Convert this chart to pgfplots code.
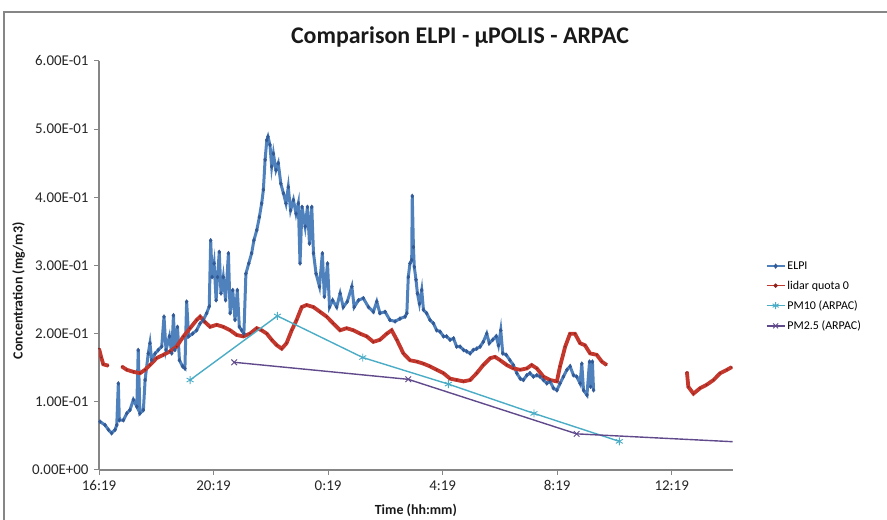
\documentclass[border=0pt]{standalone}
\usepackage{fontspec}
\setmainfont{Carlito}
\usepackage{pgfplots}
\usepackage{pgfplotstable}
\pgfplotsset{compat=1.18}
\definecolor{elpi}{RGB}{79,129,189}
\definecolor{elpimark}{RGB}{50,90,150}
\definecolor{lidar}{RGB}{195,55,45}
\definecolor{lidarmark}{RGB}{140,35,30}
\definecolor{pmten}{RGB}{75,172,198}
\definecolor{pmtwo}{RGB}{96,74,140}
\definecolor{axgray}{RGB}{134,134,134}

\pgfplotstableread{
t v
0.035 0.071
0.21 0.066
0.33 0.059
0.44 0.054
0.56 0.059
0.62 0.066
0.675 0.127
0.71 0.073
0.85 0.073
0.97 0.083
1.08 0.088
1.20 0.103
1.32 0.093
1.37 0.176
1.43 0.083
1.55 0.088
1.61 0.132
1.72 0.171
1.78 0.186
1.84 0.161
1.96 0.171
2.07 0.176
2.19 0.181
2.27 0.225
2.34 0.176
2.46 0.196
2.54 0.171
2.60 0.227
2.65 0.176
2.74 0.210
2.81 0.161
2.92 0.152
3.00 0.149
3.06 0.247
3.13 0.196
3.27 0.200
3.41 0.205
3.53 0.215
3.64 0.220
3.76 0.230
3.85 0.240
3.90 0.337
3.95 0.283
4.02 0.303
4.09 0.249
4.14 0.283
4.20 0.320
4.26 0.259
4.34 0.283
4.42 0.249
4.52 0.318
4.58 0.230
4.67 0.264
4.75 0.220
4.83 0.264
4.90 0.210
4.98 0.205
5.06 0.200
5.13 0.288
5.23 0.303
5.33 0.318
5.41 0.337
5.51 0.352
5.60 0.371
5.68 0.391
5.74 0.411
5.80 0.455
5.86 0.484
5.90 0.489
5.97 0.477
6.03 0.445
6.09 0.464
6.18 0.440
6.26 0.450
6.35 0.420
6.44 0.406
6.53 0.391
6.61 0.415
6.69 0.381
6.79 0.396
6.88 0.376
6.96 0.391
7.02 0.303
7.09 0.386
7.20 0.357
7.28 0.386
7.35 0.332
7.43 0.386
7.49 0.318
7.58 0.288
7.70 0.269
7.80 0.318
7.87 0.254
7.98 0.303
8.05 0.239
8.16 0.249
8.30 0.239
8.42 0.259
8.53 0.239
8.67 0.247
8.83 0.269
8.91 0.239
9.06 0.249
9.23 0.252
9.41 0.239
9.58 0.232
9.70 0.247
9.81 0.230
9.99 0.232
10.16 0.220
10.34 0.218
10.51 0.222
10.69 0.225
10.75 0.230
10.80 0.283
10.86 0.303
10.92 0.308
10.94 0.402
10.98 0.327
11.01 0.298
11.07 0.279
11.12 0.259
11.19 0.244
11.27 0.264
11.33 0.235
11.44 0.230
11.56 0.220
11.68 0.215
11.79 0.205
11.91 0.203
12.03 0.196
12.14 0.196
12.26 0.191
12.38 0.193
12.49 0.181
12.61 0.181
12.73 0.176
12.84 0.174
12.96 0.171
13.07 0.176
13.19 0.178
13.31 0.181
13.42 0.188
13.54 0.200
13.63 0.186
13.75 0.191
13.87 0.196
13.95 0.183
14.03 0.205
14.10 0.171
14.22 0.169
14.35 0.161
14.47 0.154
14.59 0.142
14.71 0.134
14.82 0.132
14.94 0.139
15.05 0.142
15.17 0.137
15.29 0.139
15.40 0.137
15.52 0.132
15.64 0.127
15.75 0.130
15.87 0.120
15.99 0.117
16.10 0.127
16.22 0.137
16.34 0.147
16.45 0.152
16.57 0.139
16.68 0.137
16.80 0.127
16.86 0.156
16.92 0.117
17.04 0.110
17.13 0.159
17.17 0.122
17.23 0.159
17.27 0.117
}\elpitable

\pgfplotstableread{
t v
0.00 0.178
0.08 0.165
0.15 0.155
0.33 0.153
nan nan
0.79 0.152
0.97 0.147
1.20 0.144
1.43 0.142
1.61 0.147
1.78 0.154
2.01 0.164
2.25 0.169
2.48 0.174
2.71 0.181
2.95 0.196
3.18 0.208
3.41 0.220
3.53 0.225
3.70 0.217
3.88 0.210
4.11 0.213
4.34 0.210
4.58 0.205
4.81 0.198
5.04 0.196
5.27 0.200
5.51 0.208
5.68 0.205
5.86 0.200
6.03 0.191
6.21 0.183
6.38 0.178
6.55 0.186
6.73 0.205
6.90 0.220
7.08 0.239
7.25 0.242
7.49 0.239
7.72 0.232
7.95 0.225
8.18 0.215
8.42 0.205
8.65 0.208
8.88 0.205
9.12 0.200
9.35 0.196
9.58 0.188
9.81 0.191
10.05 0.200
10.22 0.205
10.40 0.191
10.63 0.171
10.86 0.161
11.10 0.159
11.33 0.156
11.56 0.152
11.79 0.147
12.03 0.142
12.26 0.134
12.49 0.132
12.73 0.130
12.96 0.132
13.19 0.142
13.42 0.154
13.66 0.164
13.83 0.166
14.01 0.161
14.24 0.154
14.47 0.149
14.71 0.147
14.94 0.149
15.11 0.154
15.29 0.149
15.52 0.137
15.75 0.132
15.99 0.130
16.10 0.152
16.28 0.181
16.45 0.200
16.62 0.200
16.80 0.186
16.97 0.183
17.15 0.171
17.38 0.169
17.56 0.159
17.73 0.154
nan nan
20.53 0.144
20.58 0.122
20.76 0.112
20.99 0.120
21.22 0.125
21.46 0.132
21.69 0.142
21.93 0.147
22.10 0.151
}\lidartable

\pgfplotstableread{
t v
3.18 0.132
6.23 0.226
9.21 0.165
12.20 0.126
15.19 0.083
18.17 0.042
}\pmtentable

\pgfplotstableread{
t v
4.72 0.158
10.80 0.133
16.68 0.053
22.13 0.0415
}\pmtwotable

\begin{document}
\begin{tikzpicture}[x=1bp,y=1bp]
\path[use as bounding box] (0,0) rectangle (887,520);
\draw[axgray, line width=1.3bp] (4,0) -- (4,508) -- (887,508);
\node[font=\bfseries\fontsize{24}{28}\selectfont, text=black!90] at (460,483) {Comparison ELPI - μPOLIS - ARPAC};
\begin{axis}[
  at={(99bp,50bp)}, anchor=south west,
  scale only axis, width=633.7bp, height=409bp,
  xmin=0, xmax=22.13, ymin=0, ymax=0.6,
  axis x line*=bottom, axis y line*=left,
  axis line style={axgray, line width=1.3bp, -},
  tick style={axgray, line width=1bp},
  tick align=outside, major tick length=5bp,
  xtick={0,4,8,12,16,20},
  xticklabels={16:19,20:19,0:19,4:19,8:19,12:19},
  ytick={0,0.1,0.2,0.3,0.4,0.5,0.6},
  yticklabels={0.00E+00,1.00E-01,2.00E-01,3.00E-01,4.00E-01,5.00E-01,6.00E-01},
  ticklabel style={font=\fontsize{15}{17}\selectfont, text=black!85},
  yticklabel style={xshift=-2bp},
  xticklabel style={yshift=-2bp},
  xlabel={Time (hh:mm)},
  ylabel={Concentration (mg/m3)},
  label style={font=\bfseries\fontsize{14}{16}\selectfont, text=black!90},
  xlabel style={at={(axis description cs:0.5,-0.098)}, anchor=center},
  ylabel style={at={(axis description cs:-0.127,0.438)}, anchor=center},
  unbounded coords=jump,
  legend style={at={(axis description cs:1.052,0.515)}, anchor=north west, draw=none, fill=none,
    font=\fontsize{12}{14}\selectfont, row sep=6bp, inner sep=0pt},
  legend cell align=left,
  legend image code/.code={\draw[mark repeat=2,mark phase=2,#1] plot coordinates {(0bp,0bp) (9bp,0bp) (18bp,0bp)};},
]
\addlegendimage{elpi, line width=1.4bp, mark=diamond*, mark size=1.6bp, mark options={draw=elpimark, fill=elpimark}}
\addlegendentry{ELPI}
\addlegendimage{lidar, line width=1.6bp, mark=*, mark size=1.2bp, mark options={draw=lidarmark, fill=lidarmark}}
\addlegendentry{lidar quota 0}
\addlegendimage{pmten, line width=1.4bp, mark=asterisk, mark size=3.5bp, mark options={line width=0.9bp}}
\addlegendentry{PM10 (ARPAC)}
\addlegendimage{pmtwo, line width=1.4bp, mark=x, mark size=3.5bp, mark options={line width=0.9bp}}
\addlegendentry{PM2.5 (ARPAC)}
\addplot[forget plot, elpi, line width=3bp, mark=diamond*, mark size=2bp, mark options={draw=elpimark, fill=elpimark, line width=0.4bp}] table[x=t,y=v] {\elpitable};
\addplot[forget plot, lidar, line width=3.8bp, mark=*, mark size=0.7bp, mark options={draw=lidarmark, fill=lidarmark, line width=0.3bp}] table[x=t,y=v] {\lidartable};
\addplot[forget plot, pmten, line width=1.4bp, mark=asterisk, mark size=4bp, mark options={line width=0.9bp}] table[x=t,y=v] {\pmtentable};
\addplot[forget plot, pmtwo, line width=1.4bp, mark=x, mark size=4bp, mark indices={1,2,3}, mark options={line width=0.9bp}] table[x=t,y=v] {\pmtwotable};
\end{axis}
\end{tikzpicture}
\end{document}
